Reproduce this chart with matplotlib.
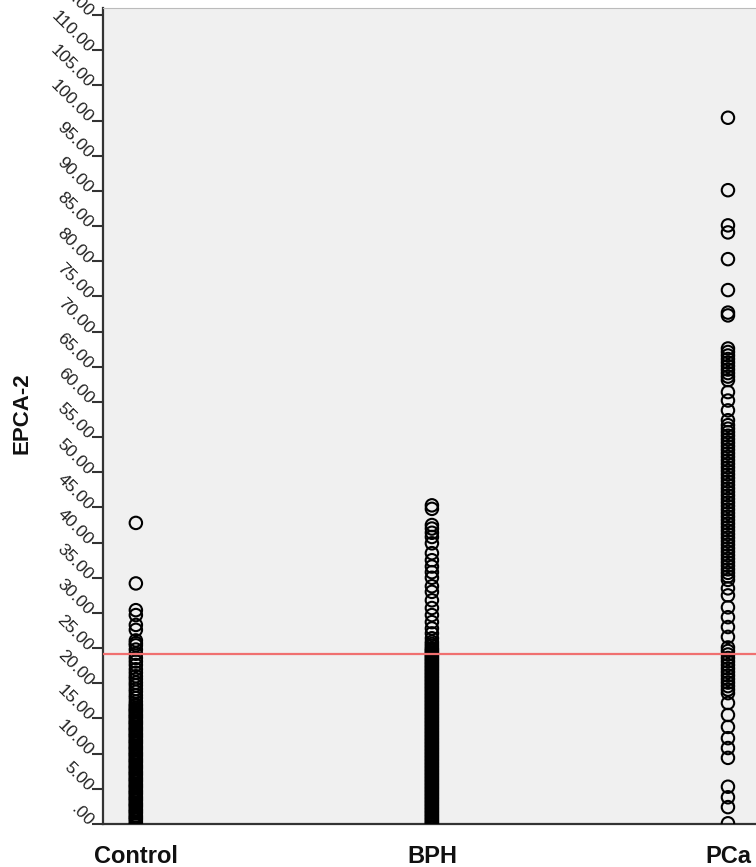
import numpy as np
import matplotlib.pyplot as plt
from matplotlib.ticker import FixedLocator, FuncFormatter

plt.rcParams['font.family'] = ['Liberation Sans', 'DejaVu Sans']

# ── Data ─────────────────────────────────────────────────────────────
groups = ['Control', 'BPH', 'PCa']

control = [0.0, 0.3, 0.6, 0.8, 1.0, 1.2, 1.5, 1.7, 1.9, 2.1, 2.4, 2.6, 2.8, 3.0,
           3.3, 3.5, 3.7, 3.9, 4.2, 4.4, 4.6, 4.8, 5.1, 5.3, 5.5, 5.7, 6.0,
           6.2, 6.4, 6.6, 6.9, 7.1, 7.3, 7.5, 7.8, 8.0, 8.2, 8.4, 8.7, 8.9,
           9.1, 9.3, 9.6, 9.8, 10.0, 10.2, 10.5, 10.7, 10.9, 11.1, 11.4, 11.6,
           11.8, 12.0, 12.3, 12.5, 12.7, 12.9, 13.2, 13.4, 13.6, 13.8, 14.1,
           14.3, 14.5, 14.7, 15.0, 15.2, 15.4, 15.6, 15.9, 16.1, 16.3, 16.5,
           16.8, 17.0, 17.4, 17.9, 18.3, 18.8, 19.2, 19.7, 20.1, 20.6, 21.0,
           21.5, 22.0, 22.6, 23.1, 23.6, 24.2, 24.8, 25.4, 25.7, 26.1, 27.6,
           28.3, 29.7, 30.4, 34.2, 42.8]

bph = [0.0, 0.2, 0.4, 0.6, 0.8, 1.0, 1.2, 1.4, 1.6, 1.8, 2.0, 2.2, 2.4, 2.6,
       2.8, 3.0, 3.2, 3.4, 3.6, 3.8, 4.0, 4.2, 4.4, 4.6, 4.8, 5.0, 5.2, 5.4,
       5.6, 5.8, 6.0, 6.2, 6.4, 6.6, 6.8, 7.0, 7.2, 7.4, 7.6, 7.8, 8.0, 8.2,
       8.4, 8.6, 8.8, 9.0, 9.2, 9.4, 9.6, 9.8, 10.0, 10.2, 10.4, 10.6, 10.8,
       11.0, 11.2, 11.4, 11.6, 11.8, 12.0, 12.2, 12.4, 12.6, 12.8, 13.0,
       13.2, 13.4, 13.6, 13.8, 14.0, 14.2, 14.4, 14.6, 14.8, 15.0, 15.2,
       15.4, 15.6, 15.8, 16.0, 16.2, 16.4, 16.6, 16.8, 17.0, 17.2, 17.4,
       17.6, 17.8, 18.0, 18.2, 18.4, 18.6, 18.8, 19.0, 19.2, 19.4, 19.6,
       19.8, 20.0, 20.2, 20.4, 20.6, 20.8, 21.0, 21.2, 21.4, 21.6, 21.8,
       22.0, 22.2, 22.4, 22.6, 22.8, 23.0, 23.2, 23.4, 23.6, 23.8, 24.0,
       24.2, 24.4, 24.6, 24.8, 25.0, 25.3, 25.6, 25.9, 26.4, 27.1, 27.8,
       28.7, 29.7, 30.7, 31.8, 33.0, 33.8, 35.0, 35.8, 36.6, 37.5, 38.5,
       39.9, 40.8, 41.4, 42.0, 42.5, 44.8, 45.3]

pca = [0.1, 2.4, 3.8, 5.3, 9.4, 10.8, 12.2, 13.8, 15.5, 17.2, 18.6, 19.1,
       19.6, 20.1, 20.6, 21.1, 21.6, 22.1, 22.6, 23.1, 23.6, 24.1, 24.6, 25.1,
       26.6, 28.0, 29.4, 30.8, 32.5, 33.5, 34.7, 35.2, 35.7, 36.2, 36.7, 37.2,
       37.7, 38.2, 38.7, 39.2, 39.7, 40.2, 40.7, 41.2, 41.7, 42.2, 42.7, 43.2,
       43.7, 44.2, 44.7, 45.2, 45.7, 46.2, 46.7, 47.2, 47.7, 48.2, 48.7, 49.2,
       49.7, 50.2, 50.7, 51.2, 51.7, 52.2, 52.7, 53.2, 53.7, 54.2, 54.7, 55.2,
       55.7, 56.2, 56.7, 57.4, 58.8, 60.2, 61.4, 63.1, 63.6, 64.1, 64.6, 65.1,
       65.6, 66.1, 66.6, 67.1, 67.6, 72.3, 72.7, 75.9, 80.3, 84.1, 85.1, 90.1,
       100.4]

cutoff = 24.1
y_ticks = list(range(0, 120, 5))

# ── Figure ────────────────────────────────────────────────────────────
fig = plt.figure(figsize=(7.56, 8.67), dpi=100)
ax = fig.add_axes([103 / 756, 43 / 867, 667 / 756, 816 / 867])
ax.set_facecolor('#f0f0f0')

for i, vals in enumerate([control, bph, pca]):
    ax.scatter(np.full(len(vals), i), vals, s=80, facecolors='none',
               edgecolors='black', linewidths=1.5, zorder=3)

ax.axhline(cutoff, color='#f07070', lw=1.6, zorder=4)

ax.set_xlim(-0.111, 2.142)
ax.set_ylim(0, 116)

ax.yaxis.set_major_locator(FixedLocator(y_ticks))
ax.yaxis.set_major_formatter(FuncFormatter(lambda v, p: '.00' if v == 0 else f'{v:.2f}'))
ax.tick_params(axis='y', direction='out', length=8, width=1.5, color='#333333',
               labelsize=12.5, labelcolor='#222222', pad=1)
for lab in ax.get_yticklabels():
    lab.set_rotation(-45)
    lab.set_rotation_mode('anchor')
    lab.set_ha('right')
    lab.set_va('center')

ax.set_xticks(range(len(groups)))
ax.set_xticklabels(groups, fontsize=17, fontweight='bold', color='#111111')
ax.tick_params(axis='x', length=0, pad=15)

for side in ['left', 'bottom']:
    ax.spines[side].set_color('#333333')
    ax.spines[side].set_linewidth(1.6)
ax.spines['top'].set_color('#bbbbbb')
ax.spines['top'].set_linewidth(0.8)
ax.spines['right'].set_visible(False)

fig.text(22 / 756, 1 - 413 / 867, 'EPCA-2', rotation=90, fontsize=16,
         fontweight='bold', ha='center', va='center', color='#111111')

fig.savefig('out.png', dpi=100)
